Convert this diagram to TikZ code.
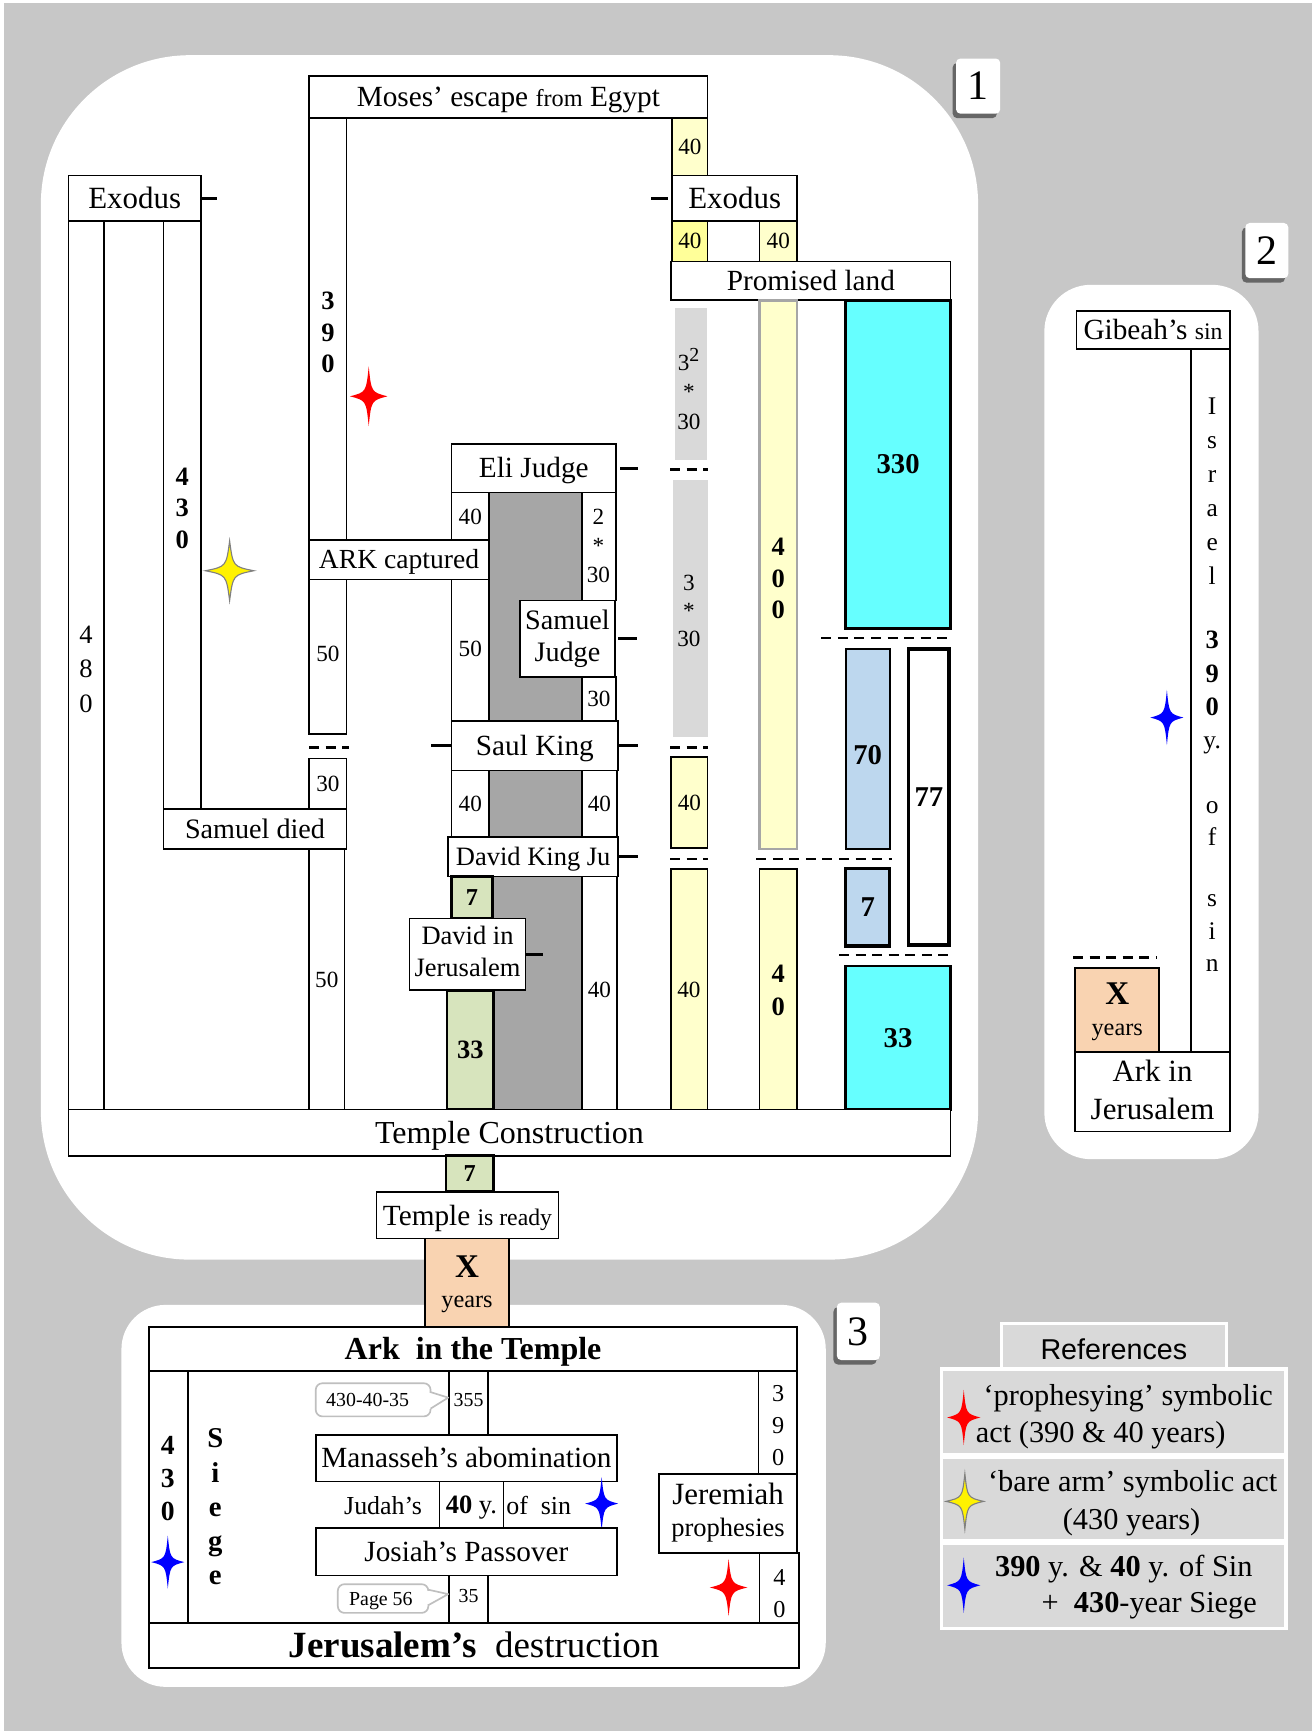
\documentclass[tikz,border=0pt]{standalone}
\usepackage{fontspec}
\setmainfont{Liberation Serif}
\newfontfamily\sansf{Liberation Sans}
\usetikzlibrary{shadows}
\newcommand\fs[2]{\fontsize{#1}{#2}\selectfont}
\newcommand\st{\rule[-0.24em]{0pt}{1.14em}}
\newcommand\bx[7]{\node[#6, minimum width={(#4-#2)*1pt}, minimum height={(#5-#3)*1pt}] (#1) at ({(#2+#4)/2},{(#3+#5)/2}) {#7};}
\definecolor{bgc}{RGB}{199,199,199}
\definecolor{yelL}{HTML}{FFFFCC}
\definecolor{yelB}{HTML}{FFFF99}
\definecolor{cyanC}{HTML}{66FFFF}
\definecolor{blueL}{HTML}{BDD7EE}
\definecolor{greenL}{HTML}{D7E4BD}
\definecolor{peach}{HTML}{F9D3B1}
\definecolor{gcolc}{HTML}{A6A6A6}
\definecolor{grayL}{HTML}{D9D9D9}
\begin{document}
\begin{tikzpicture}[x=1pt,y=-1pt,
  base/.style={inner sep=0pt, outer sep=0pt, line width=1.5pt, align=center,
    execute at begin node=\st, execute at end node=\st},
  box/.style={base, draw, fill=white, font=\fs{26.5}{29}},
  col/.style={base, draw, fill=white, font=\fs{21}{26}},
  ybox/.style={base, draw, fill=yelL, font=\fs{21}{26}},
  gbox/.style={base, draw, line width=2.5pt, fill=greenL, font=\fs{22}{26}\bfseries},
  cbox/.style={base, draw, line width=2.5pt, fill=cyanC, font=\fs{26}{28}\bfseries},
  bbox/.style={base, draw, line width=2pt, fill=blueL, font=\fs{26}{28}\bfseries},
  pbox/.style={base, draw, fill=peach},
  num/.style={base, font=\fs{21}{26}},
  bnum/.style={base, font=\fs{24}{28.5}\bfseries},
  tick/.style={line width=2.5pt},
  dsh/.style={line width=2.5pt, dash pattern=on 9pt off 6pt},
  lab/.style={base, fill=white, rounded corners=4pt, font=\fs{38}{40},
    drop shadow={shadow xshift=-3pt, shadow yshift=-4pt, fill=black!60, opacity=1}},
  callout/.style={base, draw=black!25, line width=1.5pt, fill=white, rounded corners=6pt, font=\fs{18}{21}},
  ref/.style={base, draw=white, line width=3pt, fill=grayL},
  star4/.pic={\path[pic actions] (0,1) .. controls (0.14,0.14) .. (1,0) .. controls (0.14,-0.14) .. (0,-1) .. controls (-0.14,-0.14) .. (-1,0) .. controls (-0.14,0.14) .. (0,1) -- cycle;}
]
% background
\fill[white] (0,0) rectangle (1188,1568);
\fill[bgc] (4,3) rectangle (1188,1568);
% panels
\fill[white, rounded corners=135pt] (37,50) rectangle (886,1141);
\fill[white, rounded corners=42pt] (946,258) rectangle (1140,1050);
\fill[white, rounded corners=40pt] (110,1182) rectangle (748,1528);
\bx{L1}{866}{53}{906}{103}{lab}{1}
\bx{L2}{1128}{202}{1167}{252}{lab}{2}
\bx{L3}{758}{1180}{797}{1232}{lab}{3}

% ---------- panel 1 left ----------
\bx{c480}{62}{200}{94}{1005}{col}{}
\bx{c430}{148}{200}{182}{733}{col}{}
\bx{exoL}{62}{159}{182}{200}{box, font=\fs{28}{30}}{Exodus}
\node[num, font=\fs{24}{31}] (t480) at (78,609) {4\\8\\0};
\node[bnum] (t430) at (165,463) {4\\3\\0};
\draw[tick] (exoL.east) -- ++(15,0);

\bx{c390}{280}{107}{314}{665}{col}{}
\node[bnum] (t390) at (297,304) {3\\9\\0};
\node[num] (t50a) at (297,592) {50};
\draw[dsh] (280,677) -- (316,677);
\bx{c30}{280}{687}{314}{733}{col}{30}
\bx{c50b}{280}{769}{312}{1005}{col}{}
\node[num] (t50b) at (296,888) {50};
\bx{sdied}{148}{733}{314}{769}{box, font=\fs{25.5}{28}}{Samuel died}
\bx{mos}{280}{69}{641}{107}{box}{Moses’ escape {\fs{22}{24}from} Egypt}

% ---------- panel 1 middle ----------
\bx{gcol}{443}{446}{527}{1005}{base, draw, fill=gcolc}{}
\bx{eliL}{409}{446}{443}{653}{col}{}
\node[num] (t40a) at (426,468) {40};
\node[num] (t50c) at (426,588) {50};
\bx{ark}{280}{489}{443}{525}{box, font=\fs{25}{28}}{ARK captured}
\bx{eliR}{527}{446}{558}{544}{col}{}
\node[num, font=\fs{21}{26.5}] (t230) at (542,497) {2\\*\\30};
\bx{sj}{471}{544}{557}{613}{box, font=\fs{25.5}{29}}{Samuel\\Judge}
\bx{eliR2}{527}{613}{558}{653}{col}{30}
\bx{eli}{409}{402}{558}{446}{box}{Eli Judge}
\bx{saul}{409}{653}{560}{698}{box}{Saul King}
\bx{sL}{409}{698}{443}{758}{col}{40}
\bx{sR}{527}{698}{559}{758}{col}{40}
\bx{dR}{527}{794}{559}{1005}{col}{}
\node[num] (t40b) at (543,897) {40};
\bx{dk}{406}{758}{560}{794}{box, font=\fs{24}{27}}{David King Ju}
\bx{g7}{409}{794}{446}{832}{gbox}{7}
\bx{g33}{405}{897}{447}{1005}{gbox, font=\fs{24}{26}\bfseries}{33}
\bx{dj}{371}{832}{476}{897}{box, font=\fs{24}{29}}{David in\\Jerusalem}
\draw[tick] ([xshift=4pt, yshift=-0.5pt]eli.east) -- ++(16,0);
\draw[tick] ([xshift=3pt]sj.east) -- ++(17,0);
\draw[tick] (saul.west) -- ++(-19,0);
\draw[tick] (saul.east) -- ++(18,0);
\draw[tick] (dk.east) -- ++(18,0);
\draw[tick] (dj.east) -- ++(16,0);

% ---------- panel 1 right ----------
\bx{y40a}{609}{107}{641}{159}{ybox}{40}
\bx{exoR}{609}{159}{722}{200}{box, font=\fs{28}{30}}{Exodus}
\draw[tick] ([xshift=-4pt]exoR.west) -- ++(-15,0);
\bx{y40b}{609}{200}{641}{237}{ybox, fill=yelB}{40}
\bx{y40c}{688}{200}{722}{237}{ybox}{40}
\bx{prom}{608}{237}{861}{272}{box}{Promised land}
\bx{gr1}{611}{279}{640}{417}{base, fill=grayL}{}
\node[num, font=\fs{21}{27}] (t3sq) at (624,355) {3\textsuperscript{\fs{18}{20}2}\\*\\30};
\draw[dsh] (607,425) -- (641,425);
\bx{gr2}{610}{435}{641}{668}{base, fill=grayL}{}
\node[num, font=\fs{21}{25.5}] (t3x) at (624,556) {3\\*\\30};
\draw[dsh] (607,677) -- (641,677);
\bx{y40d}{608}{686}{641}{768}{ybox}{40}
\draw[dsh] (607,778) -- (641,778);
\bx{y40e}{608}{787}{641}{1005}{ybox}{}
\node[num] (t40c) at (624,897) {40};
\bx{y400}{688}{272}{722}{769}{ybox, draw=gcolc, line width=2.5pt}{}
\node[bnum] (t400) at (705,527) {4\\0\\0};
\draw[dsh] (685,778) -- (808,778);
\bx{y40f}{688}{787}{722}{1005}{ybox}{}
\node[bnum, font=\fs{24}{30}\bfseries] (t40d) at (705,900) {4\\0};
\bx{cy330}{766}{272}{861}{569}{cbox}{330}
\draw[dsh] (744,578) -- (861,578);
\bx{b70}{766}{588}{806}{769}{bbox}{}
\node[base, font=\fs{26}{28}\bfseries] (t70) at (786,684) {70};
\bx{w77}{823}{588}{860}{856}{base, draw, fill=white, line width=3.5pt, font=\fs{26}{28}\bfseries}{77}
\bx{b7}{766}{787}{806}{857}{bbox, line width=3pt}{7}
\draw[dsh] (760,865) -- (863,865);
\bx{cy33}{766}{875}{861}{1005}{cbox}{33}

\bx{tc}{62}{1005}{861}{1047}{box, font=\fs{29}{30}}{Temple Construction}
\bx{g7b}{404}{1047}{447}{1079}{gbox}{7}
\bx{tr}{341}{1080}{506}{1122}{box}{Temple {\fs{21.5}{24}is ready}}
\bx{xy1}{385}{1122}{461}{1202}{pbox}{}
\node[base, font=\fs{30}{32}\bfseries] (x1) at (423,1147) {X};
\node[base, font=\fs{22}{26}] (y1) at (423,1177) {years};

\pic[fill=red] at (334,359) [xscale=17, yscale=27] {star4};
\pic[fill=yellow, draw=gray, line width=1pt] at (208,517) [xscale=22, yscale=27] {star4};

% ---------- panel 2 ----------
\bx{c2}{1079}{316}{1114}{953}{col}{}
\node[num, font=\fs{23}{30.8}] (tisr) at (1098,448) {I\\s\\r\\a\\e\\l};
\node[bnum, font=\fs{24}{30.5}\bfseries] (t390b) at (1098,613) {3\\9\\0};
\node[num, font=\fs{23}{29}] (ty) at (1098,670) {y.};
\node[num, font=\fs{23}{29}] (tof) at (1098,749) {o\\f};
\node[num, font=\fs{23}{29.5}] (tsin) at (1098,848) {s\\i\\n};
\bx{gib}{975}{282}{1114}{316}{box}{Gibeah’s {\fs{21.5}{24}sin}}
\pic[fill=blue] at (1057,650) [xscale=15, yscale=25] {star4};
\draw[dsh] (972,867) -- (1048,867);
\bx{xy2}{974}{877}{1050}{953}{pbox}{}
\node[base, font=\fs{30}{32}\bfseries] (x2) at (1012,900) {X};
\node[base, font=\fs{22}{26}] (y2) at (1012,931) {years};
\bx{aj}{974}{953}{1114}{1025}{box, font=\fs{28}{34}}{\raisebox{-3pt}{Ark in}\\\raisebox{-3pt}{Jerusalem}}

% ---------- panel 3 ----------
\bx{c430b}{135}{1242}{170}{1470}{col}{}
\node[bnum, font=\fs{25}{30}\bfseries] (t430b) at (152,1342) {4\\3\\0};
\pic[fill=blue] at (152,1415) [xscale=15, yscale=24] {star4};
\node[bnum, font=\fs{26}{31}\bfseries] (tsiege) at (195,1368) {S\\i\\e\\g\\e};
\bx{c355}{407}{1242}{442}{1300}{col, font=\fs{18}{21}}{\raisebox{3pt}{355}}
\bx{co1}{286}{1253}{390}{1283}{callout}{430-40-35\hspace{10pt}}
\fill[white] (388,1262) rectangle (393,1276);
\draw[black!25, line width=1.5pt, line join=round] (co1.east |- 0,1261) -- (406,1266) -- (co1.east |- 0,1276);
\bx{man}{286}{1300}{559}{1342}{box}{Manasseh’s abomination}
\bx{c40y}{398}{1342}{456}{1384}{base, draw, font=\fs{24}{27}}{\textbf{40} y.}
\node[base, font=\fs{23.5}{27}] (tjud) at (347,1364) {Judah’s};
\node[base, font=\fs{23.5}{27}] (tofs) at (488,1364) {of\ \ sin};
\pic[fill=blue] at (545,1362) [xscale=15, yscale=24] {star4};
\bx{jos}{286}{1384}{559}{1427}{box}{Josiah’s Passover}
\bx{c35}{407}{1427}{442}{1470}{col, font=\fs{18}{21}}{\raisebox{3pt}{35}}
\bx{co2}{306}{1435}{388}{1461}{callout}{Page 56\hspace{4pt}}
\fill[white] (386,1441) rectangle (391,1453);
\draw[black!25, line width=1.5pt, line join=round] (co2.east |- 0,1440) -- (406,1444) -- (co2.east |- 0,1454);
\bx{c390b}{687}{1242}{722}{1335}{col}{}
\node[num, font=\fs{22}{29}] (t390c) at (705,1294) {3\\9\\0};
\bx{jer}{597}{1335}{722}{1407}{box, font=\fs{28}{31}}{\raisebox{-2pt}{Jeremiah}\\{\fs{24}{31}prophesies}}
\bx{c40b}{688}{1407}{724}{1470}{col}{}
\node[num, font=\fs{22}{29}] (t40e) at (706,1446) {4\\0};
\pic[fill=red] at (660,1438) [xscale=17, yscale=26] {star4};
\bx{ait}{135}{1202}{722}{1242}{box, font=\fs{29}{30}\bfseries}{Ark\ \ in the Temple}
\bx{jd}{135}{1470}{724}{1511}{box, font=\fs{33.5}{34}}{\textbf{Jerusalem’s}\ \ destruction}

% ---------- references ----------
\bx{refT}{907}{1199}{1111}{1240}{ref, font=\sansf\fs{26}{28}}{\raisebox{-3pt}{References}}
\bx{r1}{853}{1240}{1165}{1318}{ref}{}
\bx{r2}{853}{1320}{1165}{1396}{ref}{}
\bx{r3}{853}{1398}{1165}{1475}{ref}{}
\node[base, anchor=west, font=\fs{27.5}{30}] (r1a) at (891,1264) {‘prophesying’ symbolic};
\node[base, anchor=west, font=\fs{27.5}{30}] (r1b) at (884,1298) {act (390 \& 40 years)};
\node[base, font=\fs{27.5}{30}] (r2a) at (1026,1342) {‘bare arm’ symbolic act};
\node[base, font=\fs{27.5}{30}] (r2b) at (1025,1376) {(430 years)};
\node[base, font=\fs{27.5}{30}] (r3a) at (1018,1419) {\textbf{390} y. \& \textbf{40} y. of Sin};
\node[base, font=\fs{27.5}{30}] (r3b) at (1041,1452) {+\ \ \textbf{430}-year Siege};
\pic[fill=red] at (873,1284) [xscale=15, yscale=25] {star4};
\pic[fill=yellow, draw=gray, line width=1pt] at (874,1360) [xscale=17, yscale=25] {star4};
\pic[fill=blue] at (873,1436) [xscale=15, yscale=25] {star4};

\useasboundingbox (0,0) rectangle (1188,1568);
\end{tikzpicture}
\end{document}
